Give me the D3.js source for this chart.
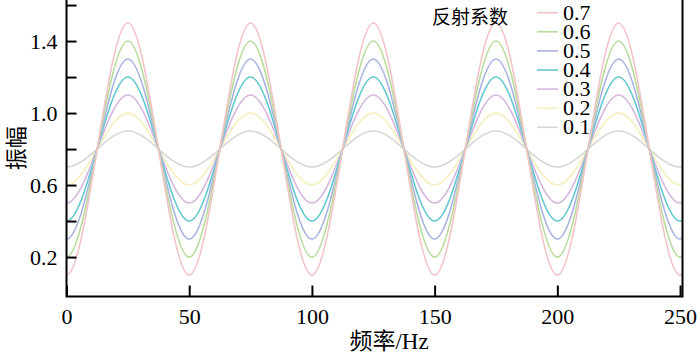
<!DOCTYPE html>
<html>
<head>
<meta charset="utf-8">
<script src="https://cdn.jsdelivr.net/npm/d3@7"></script>
<style>
    body { margin: 0; background: #fff; }
    svg { display: block; }
    .axis-container path { display: none; }
    .axis-container line { stroke: #000; stroke-width: 2; }
    .axis-container text { font-family: 'Liberation Serif', 'Times New Roman', serif; font-size: 22px; fill: #000; }
</style>
</head>
<body>
<div class="chart"></div>
<script>
// 频率节点 (Hz)，每1/4周期取一点，两端各多取一点以便裁剪
var freqs = [-12.5, 0, 12.5, 25, 37.5, 50, 62.5, 75, 87.5, 100, 112.5, 125, 137.5,
    150, 162.5, 175, 187.5, 200, 212.5, 225, 237.5, 250, 262.5];

// 反射系数
var coefs = ['0.7', '0.6', '0.5', '0.4', '0.3', '0.2', '0.1'];

// 各反射系数对应的振幅
var amp07 = [0.8, 0.1, 0.8, 1.5, 0.8, 0.1, 0.8, 1.5, 0.8, 0.1, 0.8, 1.5, 0.8, 0.1, 0.8, 1.5, 0.8, 0.1, 0.8, 1.5, 0.8, 0.1, 0.8];
var amp06 = [0.8, 0.2, 0.8, 1.4, 0.8, 0.2, 0.8, 1.4, 0.8, 0.2, 0.8, 1.4, 0.8, 0.2, 0.8, 1.4, 0.8, 0.2, 0.8, 1.4, 0.8, 0.2, 0.8];
var amp05 = [0.8, 0.3, 0.8, 1.3, 0.8, 0.3, 0.8, 1.3, 0.8, 0.3, 0.8, 1.3, 0.8, 0.3, 0.8, 1.3, 0.8, 0.3, 0.8, 1.3, 0.8, 0.3, 0.8];
var amp04 = [0.8, 0.4, 0.8, 1.2, 0.8, 0.4, 0.8, 1.2, 0.8, 0.4, 0.8, 1.2, 0.8, 0.4, 0.8, 1.2, 0.8, 0.4, 0.8, 1.2, 0.8, 0.4, 0.8];
var amp03 = [0.8, 0.5, 0.8, 1.1, 0.8, 0.5, 0.8, 1.1, 0.8, 0.5, 0.8, 1.1, 0.8, 0.5, 0.8, 1.1, 0.8, 0.5, 0.8, 1.1, 0.8, 0.5, 0.8];
var amp02 = [0.8, 0.6, 0.8, 1.0, 0.8, 0.6, 0.8, 1.0, 0.8, 0.6, 0.8, 1.0, 0.8, 0.6, 0.8, 1.0, 0.8, 0.6, 0.8, 1.0, 0.8, 0.6, 0.8];
var amp01 = [0.8, 0.7, 0.8, 0.9, 0.8, 0.7, 0.8, 0.9, 0.8, 0.7, 0.8, 0.9, 0.8, 0.7, 0.8, 0.9, 0.8, 0.7, 0.8, 0.9, 0.8, 0.7, 0.8];

var xTicks = [0, 50, 100, 150, 200, 250];
var yTicks = [0.2, 0.4, 0.6, 0.8, 1.0, 1.2, 1.4, 1.6];
var yLabels = [0.2, 0.6, 1.0, 1.4];

var series = [amp07, amp06, amp05, amp04, amp03, amp02, amp01];
var colors = ['#f2c3c4', '#b8dc9e', '#a9b3df', '#62c8cf', '#d7b6de', '#f6eebb', '#d6d6d2'];

(function() {
    var svgWidth = 700, svgHeight = 354;
    // 绘图区
    var plotLeft = 66.5, plotRight = 682.5, plotTop = 0, plotBottom = 296.5;

    var svg = d3.select('.chart')
        .append('svg')
        .attr('width', svgWidth)
        .attr('height', svgHeight);

    var xScale = d3.scaleLinear().domain([0, 251]).range([plotLeft, plotRight]);
    var yScale = d3.scaleLinear().domain([-0.019, 1.628]).range([plotBottom, plotTop]);

    svg.append('clipPath')
        .attr('id', 'plot-clip')
        .append('rect')
        .attr('x', plotLeft)
        .attr('y', plotTop)
        .attr('width', plotRight - plotLeft)
        .attr('height', plotBottom - plotTop);

    var line = d3.line()
        .x(function(d) { return xScale(d[0]); })
        .y(function(d) { return yScale(d[1]); })
        .curve(d3.curveNatural);

    // 曲线，0.1先画
    var curves = svg.append('g').attr('clip-path', 'url(#plot-clip)');
    for (var k = series.length - 1; k >= 0; k--) {
        curves.append('path')
            .datum(d3.zip(freqs, series[k]))
            .attr('d', line)
            .style('fill', 'none')
            .style('stroke', colors[k])
            .style('stroke-width', 1.6);
    }

    // x轴
    var xAxis = d3.axisBottom(xScale)
        .tickValues(xTicks)
        .tickSizeInner(-11)
        .tickSizeOuter(0)
        .tickPadding(12)
        .tickFormat(d3.format('d'));
    svg.append('g')
        .classed('axis-container xaxis', true)
        .attr('transform', 'translate(0,' + plotBottom + ')')
        .call(xAxis);

    // y轴
    var yAxis = d3.axisLeft(yScale)
        .tickValues(yTicks)
        .tickSizeInner(-10)
        .tickSizeOuter(0)
        .tickPadding(9)
        .tickFormat(function(d) {
            return yLabels.indexOf(d) >= 0 ? d3.format('.1f')(d) : '';
        });
    svg.append('g')
        .classed('axis-container yaxis', true)
        .attr('transform', 'translate(' + plotLeft + ',0)')
        .call(yAxis);

    // 边框
    svg.append('path')
        .attr('d', 'M' + plotLeft + ',' + plotTop + 'V' + plotBottom + 'H' + plotRight + 'V' + plotTop)
        .style('fill', 'none')
        .style('stroke', '#000')
        .style('stroke-width', 2);

    // 坐标轴标题
    svg.append('text')
        .attr('x', 389)
        .attr('y', 349)
        .attr('text-anchor', 'middle')
        .style('font-size', '23px')
        .style('font-family', "'Liberation Serif', 'Noto Sans CJK SC', serif")
        .text('频率/Hz');

    svg.append('text')
        .attr('transform', 'translate(24,' + ((plotTop + plotBottom) / 2) + ') rotate(-90)')
        .attr('text-anchor', 'middle')
        .style('font-size', '22px')
        .style('font-family', "'Noto Sans CJK SC', sans-serif")
        .text('振幅');

    // 图例
    var legend = svg.append('g').classed('legend', true);
    legend.append('text')
        .attr('x', 432)
        .attr('y', 24)
        .style('font-size', '19px')
        .style('font-family', "'Noto Sans CJK SC', sans-serif")
        .text('反射系数');

    var items = legend.selectAll('g.item')
        .data(coefs)
        .enter()
        .append('g')
        .classed('item', true)
        .attr('transform', function(d, i) {
            return 'translate(537,' + (12.7 + i * 19.1) + ')';
        });
    items.append('line')
        .attr('x1', 0)
        .attr('x2', 21)
        .style('stroke', function(d, i) { return colors[i]; })
        .style('stroke-width', 1.6);
    items.append('text')
        .attr('x', 26)
        .attr('y', 7)
        .style('font-size', '22px')
        .style('font-family', "'Liberation Serif', serif")
        .text(function(d) { return d; });
})();
</script>
</body>
</html>
